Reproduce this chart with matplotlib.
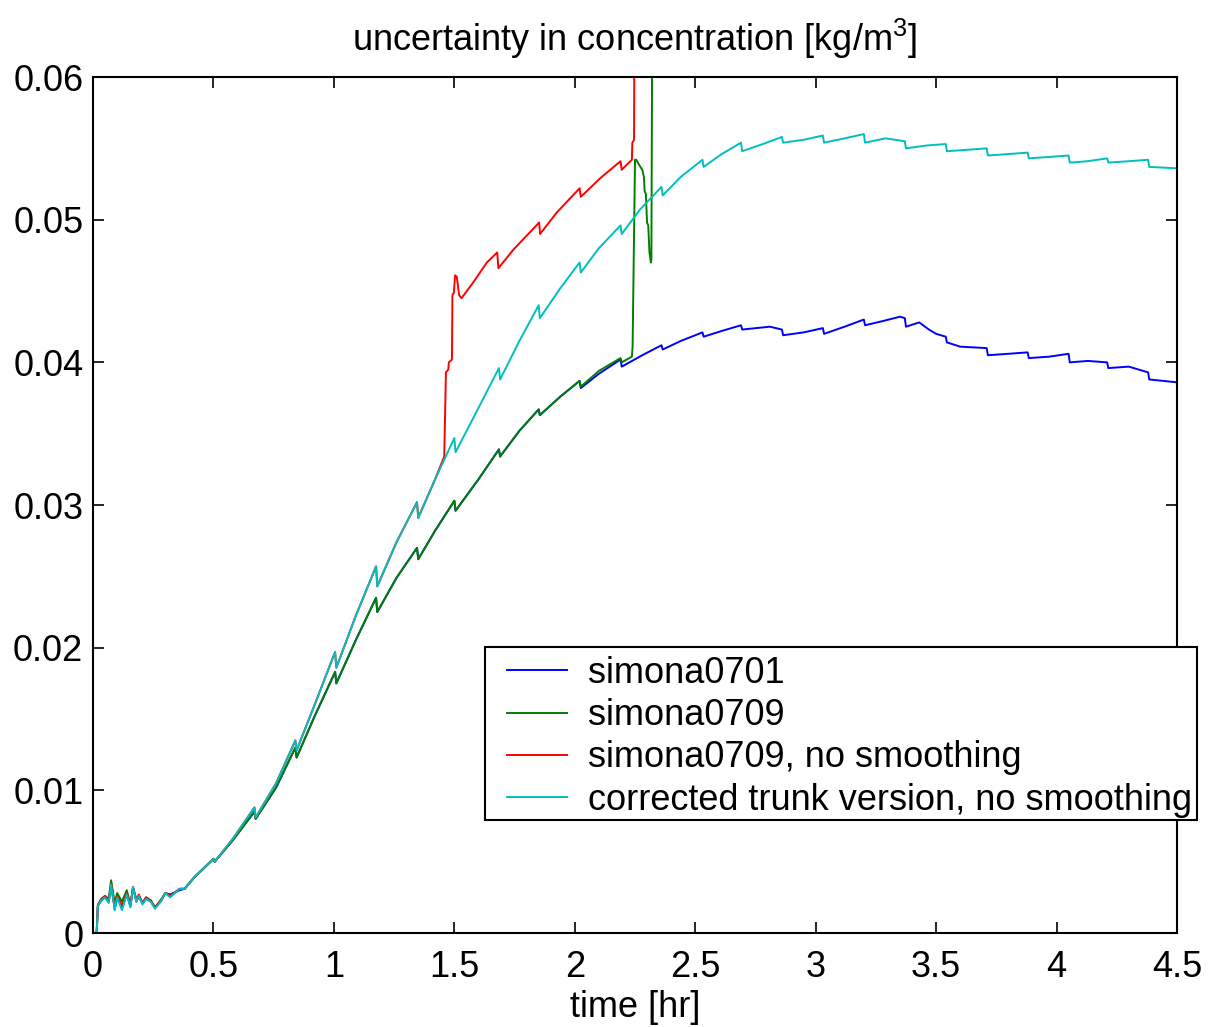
import matplotlib
matplotlib.use("Agg")
import matplotlib.pyplot as plt
from matplotlib.patches import Rectangle

plt.rcParams['font.family'] = ['Liberation Sans', 'DejaVu Sans']
plt.rcParams['mathtext.default'] = 'regular'

title = "uncertainty in concentration [kg/m$^{3}$]"
xlabel = "time [hr]"
labels = ["simona0701", "simona0709", "simona0709, no smoothing",
          "corrected trunk version, no smoothing"]
colors = ["#0000ff", "#008000", "#ff0000", "#00bfbf"]
xticks = [0, 0.5, 1, 1.5, 2, 2.5, 3, 3.5, 4, 4.5]
xticklabels = ["0", "0.5", "1", "1.5", "2", "2.5", "3", "3.5", "4", "4.5"]
yticks = [0, 0.01, 0.02, 0.03, 0.04, 0.05, 0.06]
yticklabels = ["0", "0.01", "0.02", "0.03", "0.04", "0.05", "0.06"]

# ---- early noisy part (0 - 0.42 hr) ----
early_x = [0, 0.015, 0.02, 0.035, 0.05, 0.065, 0.075, 0.09, 0.10, 0.12, 0.14,
           0.155, 0.166, 0.18, 0.19, 0.205, 0.22, 0.24, 0.257, 0.28, 0.30,
           0.32, 0.36, 0.38, 0.42]
cyan_early_y = [0, 0, 0.0019, 0.0023, 0.0025, 0.0021, 0.0034, 0.0016, 0.0025,
                0.0016, 0.0027, 0.0018, 0.0032, 0.0022, 0.0026, 0.0020, 0.0024,
                0.0022, 0.0017, 0.0022, 0.0028, 0.0025, 0.0031, 0.0031, 0.0039]
green_early_y = [0, 0, 0.0020, 0.0024, 0.0026, 0.0024, 0.0037, 0.0021, 0.0028,
                 0.0022, 0.0030, 0.0020, 0.0032, 0.0023, 0.0026, 0.0021, 0.0025,
                 0.0023, 0.0018, 0.0023, 0.0028, 0.0026, 0.0031, 0.0031, 0.0039]
red_early_y = [0, 0, 0.0019, 0.0024, 0.0026, 0.0022, 0.0035, 0.0018, 0.0026,
               0.0019, 0.0028, 0.0019, 0.0032, 0.0023, 0.0027, 0.0021, 0.0025,
               0.0022, 0.0018, 0.0022, 0.0028, 0.0026, 0.0031, 0.0031, 0.0039]
blue_early_y = [0, 0, 0.0019, 0.0023, 0.0025, 0.0022, 0.0034, 0.0017, 0.0025,
                0.0018, 0.0027, 0.0019, 0.0032, 0.0022, 0.0026, 0.0021, 0.0024,
                0.0022, 0.0018, 0.0022, 0.0028, 0.0027, 0.0030, 0.0031, 0.0039]

# ---- corrected trunk version (cyan) ----
cyan_x = [0.5, 0.505, 0.58, 0.67, 0.675, 0.76, 0.84, 0.845, 0.92, 1.005, 1.01,
          1.09, 1.175, 1.18, 1.26, 1.345, 1.35, 1.42, 1.5, 1.505, 1.6, 1.685,
          1.69, 1.77, 1.85, 1.855, 1.94, 2.02, 2.025, 2.1, 2.19, 2.195, 2.27,
          2.36, 2.365, 2.44, 2.53, 2.535, 2.61, 2.69, 2.695, 2.78, 2.86, 2.865,
          2.95, 3.03, 3.035, 3.12, 3.2, 3.205, 3.29, 3.37, 3.375, 3.46, 3.54,
          3.545, 3.63, 3.71, 3.715, 3.8, 3.88, 3.885, 3.97, 4.05, 4.055, 4.13,
          4.21, 4.215, 4.3, 4.38, 4.385, 4.5]
cyan_y = [0.0052, 0.0050, 0.0066, 0.0088, 0.0081, 0.0105, 0.0135, 0.0128,
          0.0160, 0.0197, 0.0186, 0.0222, 0.0257, 0.0243, 0.0274, 0.0302,
          0.0291, 0.0318, 0.0347, 0.0337, 0.0368, 0.0396, 0.0388, 0.0415,
          0.0440, 0.0431, 0.0452, 0.0470, 0.0463, 0.0480, 0.0496, 0.0490,
          0.0507, 0.0523, 0.0517, 0.0530, 0.0542, 0.0537, 0.0546, 0.0554,
          0.0548, 0.0553, 0.0558, 0.0554, 0.0556, 0.0559, 0.0554, 0.0557,
          0.0560, 0.0554, 0.0557, 0.0555, 0.0550, 0.0552, 0.0553, 0.0548,
          0.0549, 0.0550, 0.0545, 0.0546, 0.0547, 0.0543, 0.0544, 0.0545,
          0.0540, 0.0541, 0.0543, 0.0540, 0.0541, 0.0542, 0.0537, 0.0536]

# ---- simona0709 (green) ----
green_x = [0.5, 0.505, 0.58, 0.67, 0.675, 0.76, 0.84, 0.845, 0.92, 1.005, 1.01,
           1.09, 1.175, 1.18, 1.26, 1.345, 1.35, 1.42, 1.5, 1.505, 1.6, 1.685,
           1.69, 1.77, 1.85, 1.855, 1.94, 2.02, 2.025, 2.1, 2.19, 2.195, 2.237,
           2.24, 2.25, 2.255, 2.265, 2.28, 2.287, 2.29, 2.295, 2.3, 2.305,
           2.31, 2.316, 2.318, 2.322]
green_y = [0.0052, 0.0050, 0.0065, 0.0085, 0.0080, 0.0102, 0.0130, 0.0123,
           0.0152, 0.0183, 0.0175, 0.0205, 0.0235, 0.0225, 0.0249, 0.0270,
           0.0262, 0.0282, 0.0303, 0.0296, 0.0318, 0.0339, 0.0334, 0.0352,
           0.0367, 0.0363, 0.0376, 0.0387, 0.0383, 0.0394, 0.0403, 0.0400,
           0.0404, 0.0411, 0.0542, 0.0542, 0.0539, 0.0535, 0.0530, 0.0520,
           0.0518, 0.0498, 0.0496, 0.0477, 0.0470, 0.0472, 0.0660]

# ---- simona0701 (blue) ----
blue_x = [0.5, 0.505, 0.58, 0.67, 0.675, 0.76, 0.84, 0.845, 0.92, 1.005, 1.01,
          1.09, 1.175, 1.18, 1.26, 1.345, 1.35, 1.42, 1.5, 1.505, 1.6, 1.685,
          1.69, 1.77, 1.85, 1.855, 1.94, 2.02, 2.025, 2.1, 2.19, 2.195, 2.28,
          2.36, 2.365, 2.44, 2.53, 2.535, 2.61, 2.69, 2.695, 2.81, 2.86, 2.865,
          2.95, 3.03, 3.035, 3.12, 3.2, 3.205, 3.28, 3.35, 3.37, 3.375, 3.43,
          3.47, 3.5, 3.54, 3.545, 3.6, 3.71, 3.715, 3.8, 3.88, 3.885, 3.97,
          4.05, 4.055, 4.13, 4.21, 4.215, 4.3, 4.38, 4.385, 4.5]
blue_y = [0.0052, 0.0050, 0.0065, 0.0085, 0.0080, 0.0102, 0.0130, 0.0123,
          0.0152, 0.0183, 0.0175, 0.0205, 0.0235, 0.0225, 0.0249, 0.0270,
          0.0262, 0.0282, 0.0303, 0.0296, 0.0318, 0.0339, 0.0334, 0.0352,
          0.0367, 0.0363, 0.0376, 0.0387, 0.0382, 0.0392, 0.0402, 0.0397,
          0.0405, 0.0412, 0.0409, 0.0415, 0.0421, 0.0418, 0.0422, 0.0426,
          0.0423, 0.0425, 0.0423, 0.0419, 0.0421, 0.0424, 0.0420, 0.0425,
          0.0430, 0.0426, 0.0429, 0.0432, 0.0431, 0.0425, 0.0428, 0.0423,
          0.0420, 0.0418, 0.0414, 0.0411, 0.0410, 0.0405, 0.0406, 0.0407,
          0.0403, 0.0404, 0.0406, 0.0400, 0.0401, 0.0400, 0.0396, 0.0397,
          0.0393, 0.0388, 0.0386]

# ---- simona0709, no smoothing (red) ----
red_x = [0.5, 0.505, 0.58, 0.67, 0.675, 0.76, 0.84, 0.845, 0.92, 1.005, 1.01,
         1.09, 1.175, 1.18, 1.26, 1.345, 1.35, 1.42, 1.458, 1.465, 1.475,
         1.477, 1.49, 1.492, 1.498, 1.503, 1.51, 1.52, 1.53, 1.578, 1.635,
         1.678, 1.683, 1.745, 1.852, 1.856, 1.925, 2.02, 2.025, 2.105, 2.19,
         2.195, 2.237, 2.239, 2.246, 2.248]
red_y = [0.0052, 0.0050, 0.0066, 0.0088, 0.0081, 0.0105, 0.0135, 0.0128,
         0.0160, 0.0197, 0.0186, 0.0222, 0.0257, 0.0243, 0.0274, 0.0302,
         0.0291, 0.0318, 0.0334, 0.0393, 0.0395, 0.0400, 0.0402, 0.0447,
         0.0449, 0.0461, 0.0460, 0.0447, 0.0445, 0.0456, 0.0470, 0.0477,
         0.0466, 0.0479, 0.0498, 0.0490, 0.0505, 0.0522, 0.0516, 0.0529,
         0.0541, 0.0535, 0.0542, 0.0554, 0.0556, 0.0660]

series = [
    (early_x + blue_x, blue_early_y + blue_y),
    (early_x + green_x, green_early_y + green_y),
    (early_x + red_x, red_early_y + red_y),
    (early_x + cyan_x, cyan_early_y + cyan_y),
]

FS = 26

fig = plt.figure(figsize=(12.10, 10.27), dpi=100)
ax = fig.add_axes([0.0769, 0.0915, 0.8958, 0.8335])

for (xs, ys), lab, c in zip(series, labels, colors):
    ax.plot(xs, ys, color=c, lw=1.4, label=lab)

ax.set_xlim(0, 4.5)
ax.set_ylim(0, 0.06)
ax.set_xticks(xticks)
ax.set_xticklabels(xticklabels)
ax.set_yticks(yticks)
ax.set_yticklabels(yticklabels)
ax.tick_params(direction='in', length=8, width=1.2, labelsize=FS,
               top=True, right=True)
ax.tick_params(axis='x', pad=12)
ax.tick_params(axis='y', pad=7)
for sp in ax.spines.values():
    sp.set_linewidth(1.5)

ax.set_title(title, fontsize=FS, pad=19)
ax.set_xlabel(xlabel, fontsize=FS, labelpad=4)

# legend box (layout frame) and entries
box = Rectangle((0.3616, 0.132), 0.6568, 0.202, transform=ax.transAxes,
                facecolor='white', edgecolor='black', linewidth=1.5,
                clip_on=False, zorder=4)
ax.add_patch(box)
leg = ax.legend(loc='upper left', bbox_to_anchor=(0.382, 0.3236),
                fontsize=FS, frameon=False, handlelength=1.65,
                handletextpad=0.58, labelspacing=0.2, borderpad=0,
                borderaxespad=0)
leg.set_zorder(5)

fig.savefig("out.png", dpi=100)
